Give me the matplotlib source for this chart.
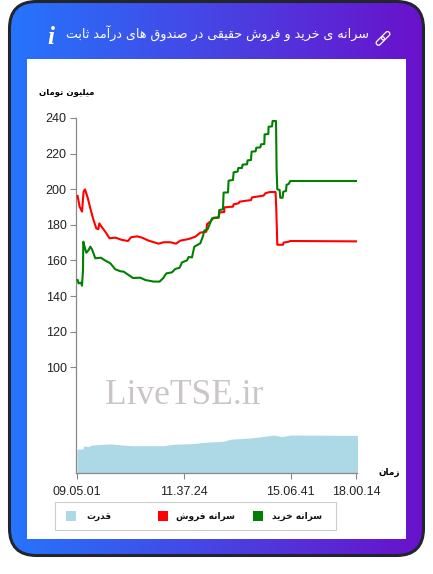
#!/usr/bin/env python3
"""Buy and sell per capita chart, fixed income funds"""
import numpy as np
import matplotlib
matplotlib.use('Agg')
import matplotlib.pyplot as plt
from matplotlib.patches import FancyBboxPatch, Rectangle
from matplotlib.transforms import Affine2D

W, H = 433, 574

# values, x is the position along the category axis
sell_x = [1.3, 3.3, 5.7, 7.3, 8.7, 11.3, 14, 16.7, 20, 22, 23, 25.7, 29, 33.3, 39, 45.7, 51.7, 54.7, 60.7, 65.7,
          72.3, 82.3, 87.3, 94, 99.7, 104, 112.3, 119, 124, 130, 130.7, 134, 137.3, 142.3, 143.3, 148, 148,
          156.7, 157.3, 162.3, 163.3, 174.7, 175.7, 187.3, 189, 193.3, 199.3, 200, 201, 206.7, 207.3, 212.3,
          214, 279.7]
sell_y = [196.2, 190.2, 187.4, 198.6, 199.9, 195.4, 189.3, 183.6, 178, 177.5, 180.8, 178.6, 176.1, 172.4, 172.8,
          171.5, 170.9, 173, 173.5, 172.8, 171.1, 169.4, 170.2, 170.2, 169.4, 171.1, 172, 173.3, 175.6, 176.1,
          180.4, 181.8, 184, 184.2, 187, 187.2, 189.8, 190.2, 191.5, 192.1, 193, 193.9, 195.4, 196.4, 197.7,
          198.4, 198.4, 188.3, 168.8, 168.8, 170, 170.5, 170.9, 170.7]

buy_x = [1.3, 2.3, 4.7, 5.7, 6.7, 7, 8.3, 10, 12.3, 14, 15.7, 19, 24.7, 29, 34, 39, 44, 47.3, 52.3, 56.7, 64, 69,
         77.3, 83.3, 86.7, 90, 95.7, 99, 103.3, 105.7, 110.7, 112.3, 115.7, 118, 124, 126.7, 128, 131.3, 135.7,
         142.3, 143, 146.7, 147.3, 151.7, 152.3, 156.7, 157.3, 161.3, 162, 165.7, 166.3, 170.7, 171.3, 174.7,
         175.3, 179.3, 180, 184, 184.7, 188, 188.3, 192, 192.3, 195.7, 196.3, 199.7, 200.3, 201, 203.3, 204,
         206.3, 207, 209.7, 210.3, 212.3, 214, 279.7]
buy_y = [149, 147.1, 147.5, 145.8, 154.6, 170.5, 167.7, 164.3, 165.8, 167.7, 166.2, 161.2, 161.5, 159.9, 158.4,
         155, 153.9, 153.7, 151.8, 150.1, 150.3, 149, 148.1, 148.1, 149.9, 152.7, 153.3, 155.2, 155.9, 158.9,
         160, 161.9, 161.7, 167.7, 169.6, 173.7, 176.7, 177.5, 183.6, 184, 188.3, 188.7, 198.1, 198.2, 204.8,
         205.2, 209.5, 209.9, 211.9, 211.9, 213.8, 214, 216.2, 216.4, 221.1, 221.3, 223.3, 223.5, 225.2, 225.4,
         230.8, 231, 235.1, 235.3, 238.3, 238.3, 210.8, 199.9, 199.6, 195.2, 195.2, 198.6, 199, 202.5, 202.9,
         204.6, 204.6]

power_x = [0.7, 6.7, 7.3, 12.3, 15.7, 34, 54, 87.3, 97.3, 117.3, 127.3, 147.3, 154, 177.3, 197.3, 205.7, 214, 281.7]
power_y = [53.9, 54.1, 55.8, 55.4, 56.3, 56.9, 55.9, 55.9, 56.7, 57.1, 57.8, 58.4, 59.5, 60.4, 61.9, 61, 61.9, 61.7]

y_ticks = [100, 120, 140, 160, 180, 200, 220, 240]
x_ticks = [0.3, 107.3, 214.3, 279.7]
x_labels = ['09.05.01', '11.37.24', '15.06.41', '18.00.14']

TITLE = 'سرانه ی خرید و فروش حقیقی در صندوق های درآمد ثابت'
Y_NAME = 'میلیون تومان'
X_NAME = 'زمان'
series_names = ['سرانه خرید', 'سرانه فروش', 'قدرت']
series_colors = ['#008000', '#ff0000', '#add8e6']

# isolated, final, initial, medial forms; no initial means it does not join forward
FORMS = {
    'ا': (0xFE8D, 0xFE8E), 'آ': (0xFE81, 0xFE82), 'ب': (0xFE8F, 0xFE90, 0xFE91, 0xFE92),
    'ت': (0xFE95, 0xFE96, 0xFE97, 0xFE98), 'ث': (0xFE99, 0xFE9A, 0xFE9B, 0xFE9C),
    'ح': (0xFEA1, 0xFEA2, 0xFEA3, 0xFEA4), 'خ': (0xFEA5, 0xFEA6, 0xFEA7, 0xFEA8),
    'د': (0xFEA9, 0xFEAA), 'ر': (0xFEAD, 0xFEAE), 'ز': (0xFEAF, 0xFEB0),
    'س': (0xFEB1, 0xFEB2, 0xFEB3, 0xFEB4), 'ش': (0xFEB5, 0xFEB6, 0xFEB7, 0xFEB8),
    'ص': (0xFEB9, 0xFEBA, 0xFEBB, 0xFEBC), 'ف': (0xFED1, 0xFED2, 0xFED3, 0xFED4),
    'ق': (0xFED5, 0xFED6, 0xFED7, 0xFED8), 'ل': (0xFEDD, 0xFEDE, 0xFEDF, 0xFEE0),
    'م': (0xFEE1, 0xFEE2, 0xFEE3, 0xFEE4), 'ن': (0xFEE5, 0xFEE6, 0xFEE7, 0xFEE8),
    'ه': (0xFEE9, 0xFEEA, 0xFEEB, 0xFEEC), 'و': (0xFEED, 0xFEEE),
    'ی': (0xFBFC, 0xFBFD, 0xFBFE, 0xFBFF),
}


def fa(text):
    # matplotlib has no shaping, so pick the joined glyphs and reverse
    out = []
    for i, c in enumerate(text):
        f = FORMS.get(c)
        if f is None:
            out.append(c)
            continue
        prev = FORMS.get(text[i - 1]) if i > 0 else None
        nxt = FORMS.get(text[i + 1]) if i + 1 < len(text) else None
        from_prev = prev is not None and len(prev) == 4
        to_next = nxt is not None and len(f) == 4
        if from_prev and to_next:
            g = f[3]
        elif to_next:
            g = f[2]
        elif from_prev:
            g = f[1]
        else:
            g = f[0]
        out.append(chr(g))
    return ''.join(reversed(out))


plt.rcParams['font.family'] = ['Liberation Sans', 'DejaVu Sans']
fig = plt.figure(figsize=(W / 100, H / 100), dpi=100, facecolor='white')

# card, in pixel coordinates
bg = fig.add_axes([0, 0, 1, 1], zorder=0)
bg.set_xlim(0, W)
bg.set_ylim(H, 0)
bg.axis('off')

grad = np.linspace(0, 1, 256).reshape(1, -1)
cmap = matplotlib.colors.LinearSegmentedColormap.from_list('card', ['#2575fc', '#6a11cb'])
img = bg.imshow(grad, extent=(9, 424, 556, 1), cmap=cmap, aspect='auto', zorder=1)
bg.set_xlim(0, W)
bg.set_ylim(H, 0)
frame = FancyBboxPatch((9.5, 1.5), 414, 554, boxstyle='round,pad=0,rounding_size=27',
                       facecolor='none', edgecolor='#22252e', linewidth=2.2, zorder=3)
bg.add_patch(frame)
img.set_clip_path(frame)
bg.add_patch(Rectangle((27, 59), 379, 480, facecolor='white', edgecolor='none', zorder=2))

bg.text(217.5, 34, fa(TITLE), color='white', fontsize=9.05, ha='center', va='center', zorder=4,
        family='DejaVu Sans')
bg.text(51, 37, 'i', color='white', fontsize=18, ha='center', va='center', zorder=4,
        family='Liberation Serif', style='italic', weight='bold')
# link icon
for cx, cy in [(385.6, 35.8), (380.4, 41)]:
    tr = Affine2D().rotate_deg_around(cx, cy, 45) + bg.transData
    bg.add_patch(FancyBboxPatch((cx - 2.3, cy - 5), 4.6, 10, boxstyle='round,pad=0,rounding_size=2.3',
                                facecolor='none', edgecolor='white', linewidth=0.9, zorder=4, transform=tr))

bg.text(67, 92, fa(Y_NAME), fontsize=6.1, weight='bold', color='black', ha='center', va='center', zorder=4,
        family='DejaVu Sans')
bg.text(389, 472, fa(X_NAME), fontsize=6.4, weight='bold', color='black', ha='center', va='center', zorder=4,
        family='DejaVu Sans')
bg.text(184, 396, 'LiveTSE.ir', fontsize=25.5, color='#cbc6c6', ha='center', va='center', zorder=4,
        family='Liberation Serif')

# legend
bg.add_patch(Rectangle((54.5, 501.5), 281.5, 28.5, facecolor='white', edgecolor='#cccccc', linewidth=0.8, zorder=4))
for name, color, sx, tx in zip(series_names, series_colors, [253.3, 158, 66], [297.5, 205, 98.5]):
    bg.add_patch(Rectangle((sx, 510.7), 10, 10, facecolor=color, edgecolor='none', zorder=5))
    bg.text(tx, 516.5, fa(name), fontsize=6.5, weight='bold', color='#111111', ha='center', va='center', zorder=5,
            family='DejaVu Sans')

# plot
left, right, top, bottom = 76.3, 357.3, 118, 473.3
ax = fig.add_axes([left / W, 1 - bottom / H, (right - left) / W, (bottom - top) / H], zorder=2)
ax.patch.set_alpha(0)
ax.set_xlim(0, 281)
ax.set_ylim(40.4, 240)
ax.fill_between(power_x, 40.4, power_y, color=series_colors[2], linewidth=0, zorder=1)
ax.plot(sell_x, sell_y, color=series_colors[1], lw=1.5, zorder=3, solid_joinstyle='round', clip_on=False)
ax.plot(buy_x, buy_y, color=series_colors[0], lw=1.5, zorder=4, solid_joinstyle='round', clip_on=False)

for s in ['top', 'right']:
    ax.spines[s].set_visible(False)
for s in ['left', 'bottom']:
    ax.spines[s].set_color('#888888')
    ax.spines[s].set_linewidth(0.9)
ax.set_yticks(y_ticks)
ax.set_xticks(x_ticks)
ax.set_xticklabels(x_labels)
ax.tick_params(axis='both', color='#888888', width=0.8, length=4, labelsize=9, labelcolor='#222222')
ax.tick_params(axis='x', pad=5.5)
ax.tick_params(axis='y', pad=3)

plt.savefig('out.png', dpi=100, facecolor='white')
plt.close()
